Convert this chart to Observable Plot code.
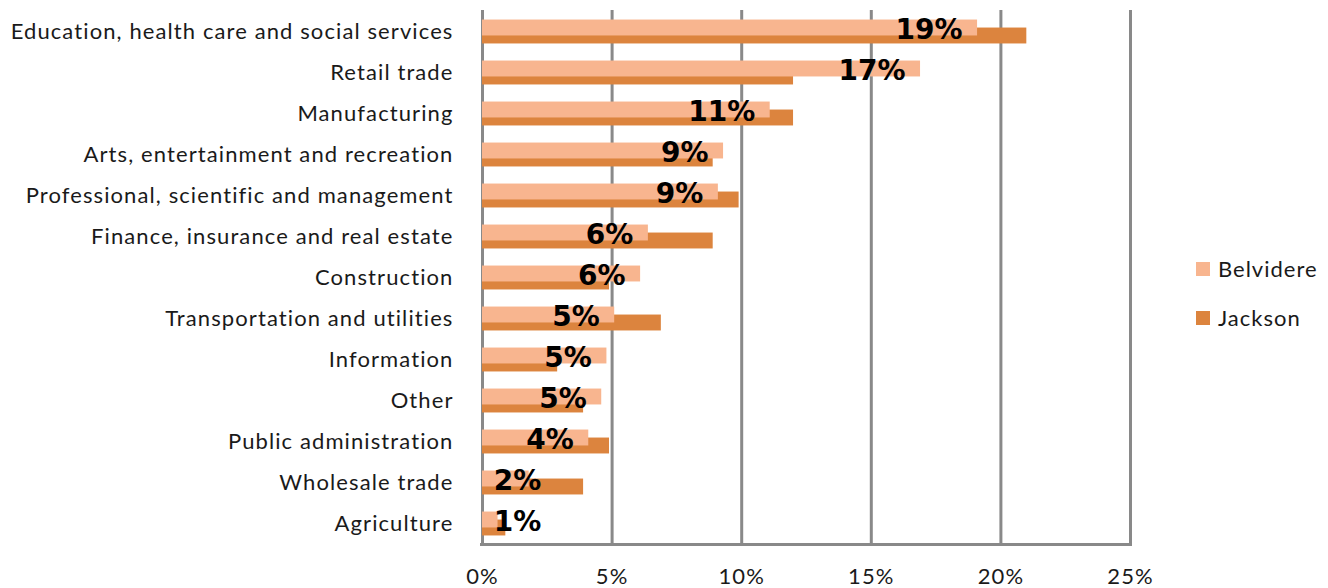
<!DOCTYPE html>
<html>
<head>
<meta charset="utf-8">
<script src="https://cdn.jsdelivr.net/npm/d3@7"></script>
<script src="https://cdn.jsdelivr.net/npm/@observablehq/plot@0.6"></script>
<style>
  html, body { margin: 0; padding: 0; background: #fff; }
  #wrap { position: relative; width: 1328px; height: 588px; font-family: Lato, Carlito, Calibri, sans-serif; }
  #wrap svg { letter-spacing: 1.1px; }
  #wrap svg g[aria-label="text"] { letter-spacing: 0; }
  #legend { position: absolute; left: 1196px; top: 0; }
  .item { position: absolute; left: 0; display: flex; align-items: center; white-space: nowrap; font-size: 22px; letter-spacing: 1px; color: #1a1a1a; }
  .sw { width: 14px; height: 14px; margin-right: 8px; }
</style>
</head>
<body>
<div id="wrap"></div>
<script>
const categories = [
  "Education, health care and social services",
  "Retail trade",
  "Manufacturing",
  "Arts, entertainment and recreation",
  "Professional, scientific and management",
  "Finance, insurance and real estate",
  "Construction",
  "Transportation and utilities",
  "Information",
  "Other",
  "Public administration",
  "Wholesale trade",
  "Agriculture"
];
const belvidere = [19.1, 16.9, 11.1, 9.3, 9.1, 6.4, 6.1, 5.1, 4.8, 4.6, 4.1, 1.8, 0.6];
const jackson   = [21.0, 12.0, 12.0, 8.9, 9.9, 8.9, 4.9, 6.9, 2.9, 3.9, 4.9, 3.9, 0.9];
const seriesNames = ["Belvidere", "Jackson"];
const seriesColors = ["#F8B58F", "#DC843E"];
const xTicks = [0, 5, 10, 15, 20, 25];

const rows = categories.map((c, i) => ({category: c, belvidere: belvidere[i], jackson: jackson[i]}));

const W = 1328, H = 588, mT = 10, mB = 44;
const bw = (H - mT - mB) / categories.length;

const chart = Plot.plot({
  width: W,
  height: H,
  marginLeft: 482,
  marginRight: 198,
  marginTop: mT,
  marginBottom: mB,
  style: {fontFamily: "Lato, Carlito, Calibri, sans-serif", background: "#fff", color: "#1a1a1a"},
  x: {domain: [0, 25]},
  y: {domain: categories, padding: 0},
  marks: [
    Plot.ruleX(xTicks, {stroke: "#898989", strokeWidth: 3}),
    Plot.ruleY([categories[categories.length - 1]], {dy: bw / 2, stroke: "#898989", strokeWidth: 3, insetLeft: -2, insetRight: -2}),
    Plot.barX(rows, {y: "category", x: "jackson", fill: seriesColors[1], insetTop: bw / 2 - 4, insetBottom: bw / 2 - 12}),
    Plot.barX(rows, {y: "category", x: "belvidere", fill: seriesColors[0], insetTop: bw / 2 - 12, insetBottom: bw / 2 - 4}),
    Plot.text(rows, {
      y: "category",
      x: d => Math.max(d.belvidere, 2.85),
      text: d => Math.round(d.belvidere) + "%",
      textAnchor: "end",
      dx: -15,
      dy: -2,
      fontSize: 28,
      fontWeight: "bold",
      fontFamily: "DejaVu Sans, sans-serif",
      fill: "#000"
    }),
    Plot.axisY({tickSize: 0, tickPadding: 29, fontSize: 22, label: null}),
    Plot.axisX(xTicks, {tickSize: 0, tickPadding: 24, fontSize: 22, label: null, tickFormat: d => d + "%"})
  ]
});

const wrap = document.getElementById("wrap");
wrap.appendChild(chart);

const legend = document.createElement("div");
legend.id = "legend";
const tops = [255, 304];
seriesNames.forEach((name, i) => {
  const item = document.createElement("div");
  item.className = "item";
  item.style.top = tops[i] + "px";
  const sw = document.createElement("span");
  sw.className = "sw";
  sw.style.background = seriesColors[i];
  const t = document.createElement("span");
  t.textContent = name;
  item.appendChild(sw);
  item.appendChild(t);
  legend.appendChild(item);
});
wrap.appendChild(legend);
</script>
</body>
</html>
